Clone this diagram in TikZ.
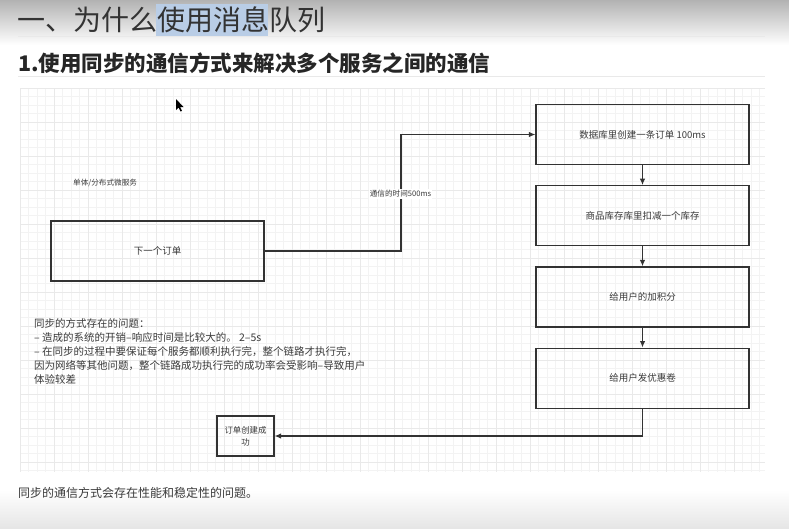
\documentclass[tikz,border=0pt]{standalone}
\usepackage{fontspec}
\setmainfont{Noto Sans CJK SC}
\usetikzlibrary{arrows.meta,positioning,calc}
\definecolor{linegray}{HTML}{333333}
\definecolor{textgray}{HTML}{3A3A3A}
\definecolor{gridminor}{HTML}{F3F3F3}
\definecolor{gridmajor}{HTML}{E9E9E9}
\definecolor{markblue}{HTML}{B9CDE6}

\begin{document}
\begin{tikzpicture}[x=1pt,y=-1pt,>=Latex,
  box/.style={draw=linegray,line width=1.2pt,minimum width=213pt,minimum height=60pt,
    inner sep=0pt,text=textgray,font=\fontsize{9.5}{11}\selectfont},
  smallbox/.style={draw=linegray,line width=1.2pt,minimum width=57pt,minimum height=40pt,
    inner sep=2pt,align=center,text=textgray,font=\fontsize{8.4}{12}\selectfont},
  flow/.style={->,draw=linegray,line width=1.1pt,>={Latex[length=6.5pt,width=5.5pt]}},
  tag/.style={text=textgray,inner sep=1pt,font=\fontsize{7.6}{9}\selectfont},
  rule/.style={draw=gridmajor,line width=0.8pt}]
\useasboundingbox (0,0) rectangle (789,528);
% page shading
\fill[white] (0,0) rectangle (789,528);
\shade[top color=black!30,bottom color=white] (0,0) rectangle (789,45);
\shade[top color=white,bottom color=black!10] (0,490) rectangle (789,528);
% grid paper
\foreach \gx in {20,28.5,...,765}
  \draw[draw=gridminor,line width=0.6pt] (\gx,88) -- (\gx,472);
\foreach \gy in {88,96.5,...,472}
  \draw[draw=gridminor,line width=0.6pt] (20,\gy) -- (765,\gy);
\foreach \gx in {20,54,...,765}
  \draw[draw=gridmajor,line width=0.7pt] (\gx,88) -- (\gx,472);
\foreach \gy in {88,122,...,472}
  \draw[draw=gridmajor,line width=0.7pt] (20,\gy) -- (765,\gy);

% headings
\fill[markblue] (156,4) rectangle (268,37);
\node[anchor=base west,inner sep=0pt,text=black!80,font=\fontsize{28}{30}\selectfont]
  (title) at (17,30) {一、为什么使用消息队列};
\draw[rule] (18,36) -- (765,36);
\node[anchor=base west,inner sep=0pt,text=black!85,font=\fontsize{21.5}{24}\selectfont\bfseries]
  (subtitle) at (18,71) {1.使用同步的通信方式来解决多个服务之间的通信};
\draw[rule] (18,76) -- (765,76);

% cursor
\fill[black] (176,99) -- (176,110) -- (178.5,107.5) -- (180.5,111.5) -- (182,110.8)
  -- (180,107) -- (183.5,107) -- cycle;

% services
\node[box] (order) at (157.5,251) {下一个订单};
\node[tag,anchor=west] (mono) at (72,183) {单体/分布式微服务};
\node[box] (db) at (642.5,134.5) {数据库里创建一条订单 100ms};
\node[box,below=20pt of db] (stock) {商品库存库里扣减一个库存};
\node[box,below=20pt of stock] (points) {给用户的加积分};
\node[box,below=20pt of points] (coupon) {给用户发优惠卷};
\node[smallbox] (done) at (245.5,436) {订单创建成\\功};

% connectors
\coordinate (bend) at (401,0);
\draw[flow] (order.east) -- (order.east -| bend) |- (db.west);
\node[tag,fill=white] (cost) at (400.5,194) {通信的时间500ms};
\draw[flow] (db) -- (stock);
\draw[flow] (stock) -- (points);
\draw[flow] (points) -- (coupon);
\draw[flow] (coupon.south) |- (done.east);

% notes
\node[anchor=north west,align=left,inner sep=0pt,text=textgray,
  font=\fontsize{10.5}{14}\selectfont] (problems) at (34,318)
  {同步的方式存在的问题：\\
   – 造成的系统的开销–响应时间是比较大的。 2–5s\\
   – 在同步的过程中要保证每个服务都顺利执行完，整个链路才执行完，\\
   因为网络等其他问题，整个链路成功执行完的成功率会受影响–导致用户\\
   体验较差};
\node[anchor=west,inner sep=0pt,text=textgray,font=\fontsize{12}{14}\selectfont]
  (summary) at (18,493) {同步的通信方式会存在性能和稳定性的问题。};
\end{tikzpicture}
\end{document}
